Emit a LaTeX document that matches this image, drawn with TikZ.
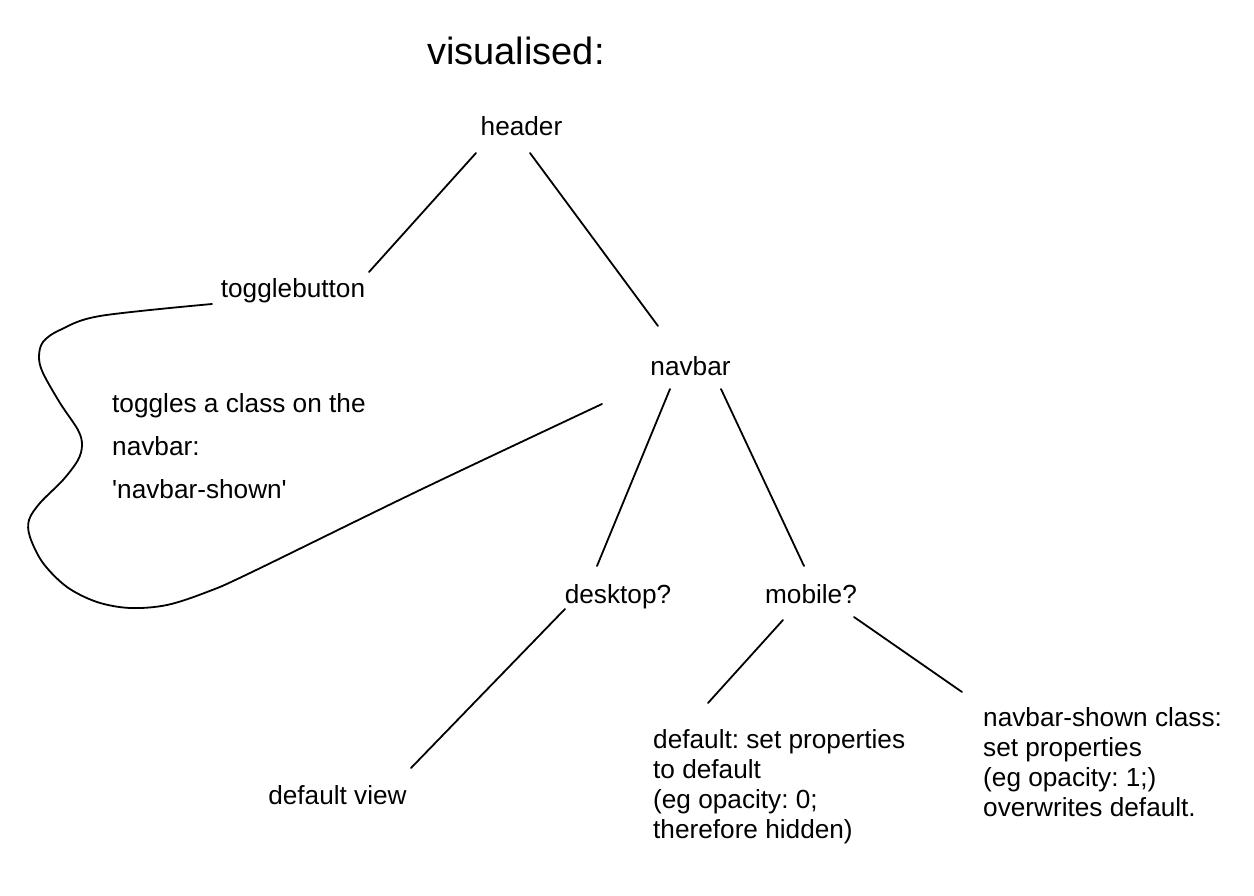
\documentclass[tikz,border=0pt]{standalone}
\usepackage{fontspec}
\setmainfont{Liberation Sans}
\frenchspacing
\begin{document}
\begin{tikzpicture}[x=1pt,y=-1pt,
  lbl/.style={inner sep=0pt, anchor=base, font=\fontsize{26.2}{30}\selectfont},
  lblw/.style={inner sep=0pt, anchor=base west, font=\fontsize{26.2}{30}\selectfont},
  conn/.style={line width=1.8pt, line cap=round}]
\useasboundingbox (0,0) rectangle (1254,896);
\fill[white] (0,0) rectangle (1254,896);

\node[inner sep=0pt, anchor=base, font=\fontsize{38}{44}\selectfont] (title) at (516,65) {visualised:};
\node[lbl] (header) at (521.5,136) {header};
\node[lbl] (toggle) at (293,298) {togglebutton};
\node[lbl] (navbar) at (690.5,375) {navbar};
\node[lbl] (desktop) at (618,603) {desktop?};
\node[lbl] (mobile) at (811,603) {mobile?};
\node[lbl] (defview) at (337.5,804) {default view};

\node[lblw] (tg1) at (112,412) {toggles a class on the};
\node[lblw] (tg2) at (112,455) {navbar:};
\node[lblw] (tg3) at (112,498) {\textquotesingle navbar-shown\textquotesingle};

\node[lblw] (df1) at (653,748) {default: set properties};
\node[lblw] (df2) at (653,778) {to default};
\node[lblw] (df3) at (653,808) {(eg opacity: 0;};
\node[lblw] (df4) at (653,838) {therefore hidden)};

\node[lblw] (sh1) at (983,726) {navbar-shown class:};
\node[lblw] (sh2) at (983,756) {set properties};
\node[lblw] (sh3) at (983,786) {(eg opacity: 1;)};
\node[lblw] (sh4) at (983,816) {overwrites default.};

\draw[conn] ([shift={(-45.5,17)}]header.base) -- ([shift={(76,-26)}]toggle.base);
\draw[conn] ([shift={(8.5,17)}]header.base) -- ([shift={(-32.5,-49)}]navbar.base);
\draw[conn] ([shift={(-20.5,14)}]navbar.base) -- ([shift={(-21,-37)}]desktop.base);
\draw[conn] ([shift={(30.5,14)}]navbar.base) -- ([shift={(-7,-37)}]mobile.base);
\draw[conn] ([shift={(-53,6)}]desktop.base) -- ([shift={(73.5,-36)}]defview.base);
\draw[conn] ([shift={(-28,17)}]mobile.base) -- ([shift={(55,-45)}]df1.base west);
\draw[conn] ([shift={(43,14)}]mobile.base) -- ([shift={(-21,-34)}]sh1.base west);

\coordinate (cstart) at ([shift={(-81,6)}]toggle.base);
\coordinate (cend) at ([shift={(-88.5,29)}]navbar.base);
\draw[conn] plot[smooth, tension=0.55] coordinates {(cstart) (100,316) (60,330) (43,342) (39,357) (43,373) (60,403) (78,430) (82,445) (78,460) (63,480) (40,503) (29,520) (30,537) (43,563) (67,587) (97,602) (130,608) (167,605) (207,592) (250,573) (420,490) (cend)};
\end{tikzpicture}
\end{document}
